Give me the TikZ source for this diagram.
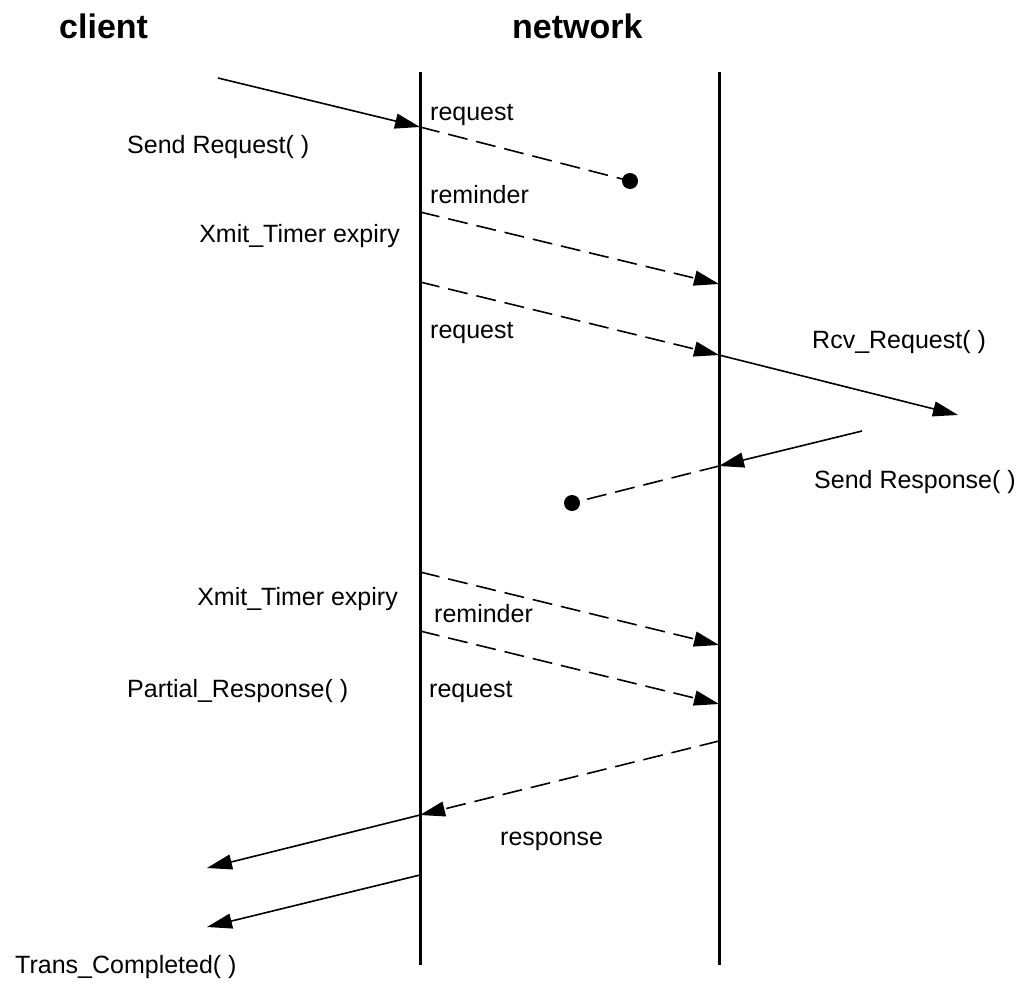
\documentclass[tikz,border=0pt]{standalone}
\usepackage{fontspec}
\setmainfont{Liberation Sans}
\usetikzlibrary{arrows.meta}
\begin{document}
\begin{tikzpicture}[x=1pt,y=-1pt,
  lifeline/.style={line width=3pt},
  msg/.style={line width=1.6pt},
  lostmsg/.style={msg,dash pattern=on 20pt off 9pt},
  tipped/.style={-{Triangle[length=25pt,width=15pt]}},
  lostdot/.style={circle,fill=black,inner sep=0pt,minimum size=16pt},
  lbl/.style={font=\fontsize{25}{30}\selectfont,inner sep=0pt},
  headtext/.style={font=\fontsize{34}{40}\selectfont\bfseries,inner sep=0pt}]
\useasboundingbox (0,0) rectangle (1024,990);

% column headings
\node[headtext,anchor=base west] (hclient) at (59,39) {client};
\node[headtext,anchor=base west] (hnet) at (512,39) {network};

% lifelines
\coordinate (A0) at (420,72);  \coordinate (A1) at (420,965);
\coordinate (B0) at (719,72);  \coordinate (B1) at (719,965);
\draw[lifeline] (A0) -- (A1);
\draw[lifeline] (B0) -- (B1);

% points on the lifelines and free ends
\coordinate (c0) at (218,78);
\coordinate (a1) at (420,127);
\coordinate (a2) at (420,212);
\coordinate (a3) at (420,282);
\coordinate (a4) at (420,572);
\coordinate (a5) at (420,631);
\coordinate (a6) at (420,815);
\coordinate (a7) at (420,875);
\coordinate (b2) at (719,284);
\coordinate (b3) at (719,355);
\coordinate (b4) at (719,466);
\coordinate (b5) at (719,645);
\coordinate (b6) at (719,704);
\coordinate (b7) at (719,741);
\coordinate (s1) at (958,415);
\coordinate (s0) at (862,431);
\coordinate (c1) at (207,868);
\coordinate (c2) at (207,927);
\node[lostdot] (d1) at (630,181) {};
\node[lostdot] (d2) at (572,503) {};

% messages
\draw[msg,tipped] (c0) -- (a1);
\draw[lostmsg] (a1) -- (d1.center);
\draw[lostmsg,tipped] (a2) -- (b2);
\draw[lostmsg,tipped] (a3) -- (b3);
\draw[msg,tipped] (b3) -- (s1);
\draw[msg,tipped] (s0) -- (b4);
\draw[lostmsg] (b4) -- (d2.center);
\draw[lostmsg,tipped] (a4) -- (b5);
\draw[lostmsg,tipped] (a5) -- (b6);
\draw[lostmsg,tipped] (b7) -- (a6);
\draw[msg,tipped] (a6) -- (c1);
\draw[msg,tipped] (a7) -- (c2);

% labels
\node[lbl,anchor=base west] (l1) at (430,120) {request};
\node[lbl,anchor=base west] (l2) at (127,153) {Send Request( )};
\node[lbl,anchor=base west] (l3) at (430,203) {reminder};
\node[lbl,anchor=base east] (l4) at (400,242) {Xmit\_Timer expiry};
\node[lbl,anchor=base west] (l5) at (430,338) {request};
\node[lbl,anchor=base west] (l6) at (812,348) {Rcv\_Request( )};
\node[lbl,anchor=base west] (l7) at (814,488) {Send Response( )};
\node[lbl,anchor=base east] (l8) at (398,605) {Xmit\_Timer expiry};
\node[lbl,anchor=base west] (l9) at (434,622) {reminder};
\node[lbl,anchor=base west] (l10) at (127,697) {Partial\_Response( )};
\node[lbl,anchor=base west] (l11) at (429,697) {request};
\node[lbl,anchor=base west] (l12) at (500,845) {response};
\node[lbl,anchor=base west] (l13) at (15,973) {Trans\_Completed( )};
\end{tikzpicture}
\end{document}
